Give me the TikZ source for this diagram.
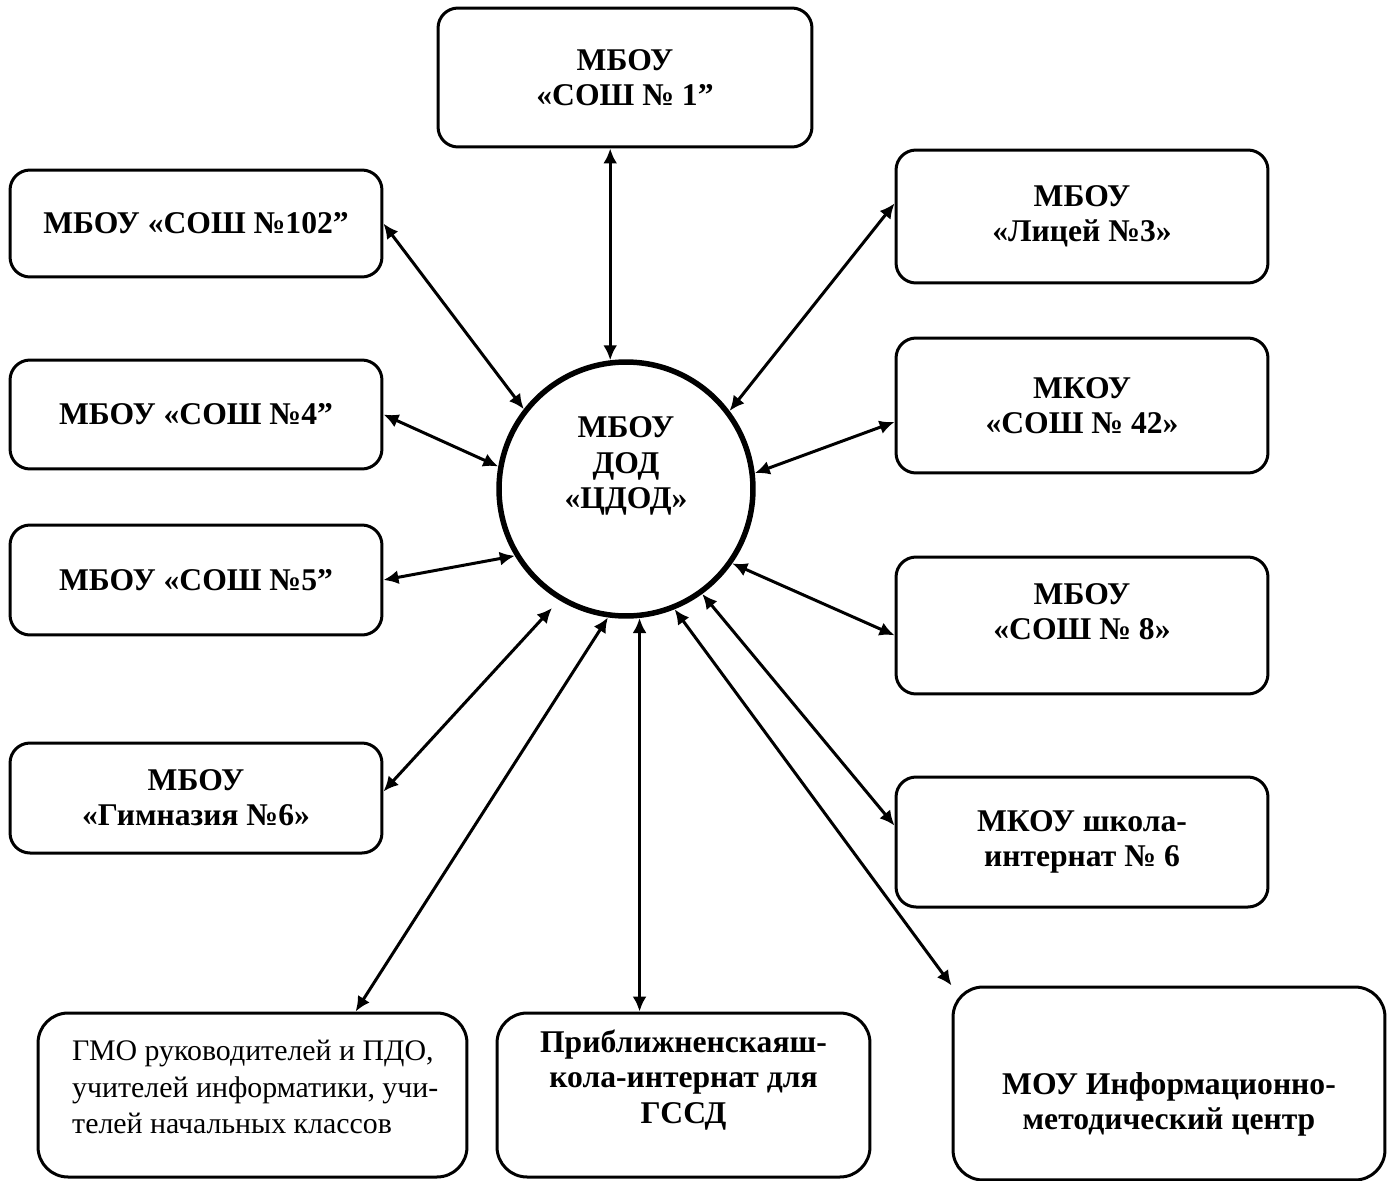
\documentclass[tikz,border=0pt]{standalone}
\usepackage{fontspec}
\usetikzlibrary{arrows.meta}
\setmainfont{Liberation Serif}
\tikzstyle{box} = [rectangle, draw, line width=0.06cm, rounded corners=0.4cm, align=center, minimum width=7.44cm, font=\bfseries\fontsize{18}{20}\selectfont]

\begin{document}
\begin{tikzpicture}[x=0.02cm, y=-0.02cm, >={Latex[length=0.3cm, width=0.28cm]}]
	\tikzstyle{link}=[<->, line width=0.06cm]
	\tikzstyle{bigbox}=[box, rounded corners=0.6cm, minimum height=3.28cm]
	\tikzstyle{boxtext}=[align=center, font=\bfseries\fontsize{18}{20}\selectfont]
\useasboundingbox (0,0) rectangle (1389,1180);
  \node[circle, draw, line width=0.11cm, minimum size=5.08cm] (cdod) at (626,489) {};
  \node[boxtext] (cdodlbl) at (626,466) {МБОУ\\ДОД\\«ЦДОД»};
    \node [box, minimum width=7.48cm, minimum height=2.78cm] (sch1) at (625,77.5) {МБОУ\\«СОШ № 1”};
    \node [box, minimum height=2.14cm] (sch102) at (196,223.5) {МБОУ «СОШ №102”};
    \node [box, minimum height=2.18cm] (sch4) at (196,414.5) {МБОУ «СОШ №4”};
    \node [box, minimum height=2.2cm] (sch5) at (196,580) {МБОУ «СОШ №5”};
    \node [box, minimum height=2.2cm] (gym6) at (196,798) {МБОУ\\«Гимназия №6»};
    \node [box, minimum height=2.66cm] (lyc3) at (1082,216.5) {МБОУ\\«Лицей №3»};
    \node [box, minimum height=2.7cm] (sch42) at (1082,405.5) {МКОУ\\«СОШ № 42»};
    \node [box, minimum height=2.74cm] (sch8) at (1082,625.5) {};
    \node [boxtext] (sch8lbl) at (1082,612) {МБОУ\\«СОШ № 8»};
    \node [box, minimum height=2.6cm] (intern6) at (1082,842) {МКОУ школа-\\интернат № 6};
    \node [bigbox, minimum width=8.58cm] (gmo) at (252.5,1095) {};
    \node [anchor=west, align=left, font=\fontsize{17}{21}\selectfont] (gmolbl) at (66,1087) {ГМО руководителей и ПДО,\\учителей информатики, учи-\\телей начальных классов};
    \node [bigbox, minimum width=7.46cm] (gssd) at (683.5,1095) {};
    \node [boxtext] (gssdlbl) at (683.5,1080) {Приближненскаяш-\\кола-интернат для\\ГССД};
    \node [bigbox, minimum width=8.64cm, minimum height=3.86cm] (imc) at (1169,1083.5) {};
    \node [boxtext] (imclbl) at (1169,1104) {МОУ Информационно-\\методический центр};
  \coordinate (gymtip) at (552,608);
\draw[link] (sch1.south -| cdod.97) -- (cdod.97);
\draw[link] (sch102.east) -- (cdod.142);
\draw[link] (sch4.east) -- (cdod.170);
\draw[link] (sch5.east) -- (cdod.211);
\draw[link] (gym6.2) -- (gymtip);
\draw[link] (gmo.39) -- (cdod.262);
\draw[link] (gssd.north -| cdod.276) -- (cdod.276);
\draw[link] (imc.north west) -- (cdod.292);
\draw[link] (intern6.175) -- (cdod.306);
\draw[link] (sch8.183) -- (cdod.325);
\draw[link] (sch42.185) -- (cdod.7);
\draw[link] (lyc3.176) -- (cdod.37);
\end{tikzpicture}
\end{document}
